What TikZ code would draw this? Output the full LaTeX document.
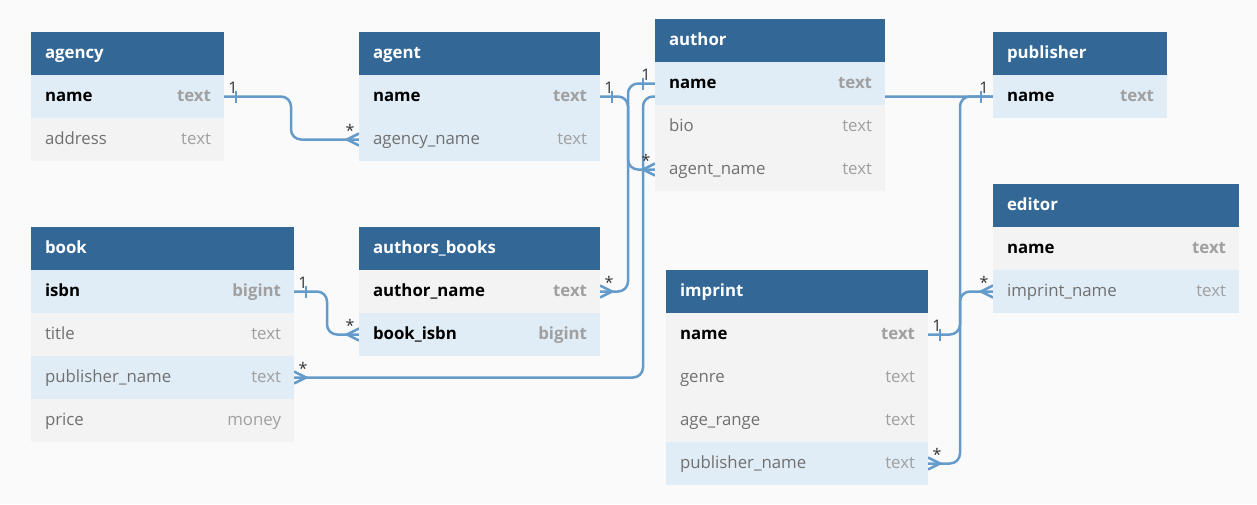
\documentclass[tikz,border=0pt]{standalone}
\usepackage{fontspec}
\setmainfont{Open Sans}
\usetikzlibrary{positioning}
\definecolor{hdrblue}{HTML}{326796}
\definecolor{keyblue}{HTML}{E0EDF6}
\definecolor{rowgrey}{HTML}{F3F3F3}
\definecolor{bgwhite}{HTML}{FAFAFB}
\definecolor{linkblue}{HTML}{659BCB}
\definecolor{fldgrey}{HTML}{707070}
\definecolor{typgrey}{HTML}{A0A0A0}
\definecolor{cardgrey}{HTML}{333333}
\pgfdeclarelayer{back}
\pgfdeclarelayer{links}
\pgfsetlayers{back,links,main}
\tikzset{
  cardone/.pic={
    \draw[link] (12,-6) -- (12,6);
    \node[card] at (9,-3) {1};
  },
  cardmany/.pic={
    \draw[link,sharp corners] (0,-6) -- (12,0) -- (0,6);
    \node[card] at (9,-3) {*};
  }
}
\begin{document}
\begin{tikzpicture}[x=1pt,y=-1pt,node distance=0pt,
    every node/.style={outer sep=0pt},
    hdr/.style={anchor=north west,fill=hdrblue,minimum height=43pt,inner sep=0pt,minimum width=#1},
    keyrow/.style={fill=keyblue,minimum height=43pt,inner sep=0pt,minimum width=#1},
    row/.style={fill=rowgrey,minimum height=43pt,inner sep=0pt,minimum width=#1},
    ttl/.style={right,inner xsep=14pt,yshift=-2pt,text=white,text height=1.5ex,text depth=.25ex,font=\bfseries\fontsize{16.8}{20}\selectfont},
    fld/.style={right,inner xsep=14pt,yshift=-2pt,text=fldgrey,text height=1.5ex,text depth=.25ex,font=\fontsize{16.8}{20}\selectfont},
    pk/.style={fld,text=black,font=\bfseries\fontsize{16.8}{20}\selectfont},
    typ/.style={left,inner xsep=13pt,yshift=-2pt,text=typgrey,text height=1.5ex,text depth=.25ex,font=\fontsize{16.8}{20}\selectfont},
    pktyp/.style={typ,font=\bfseries\fontsize{16.8}{20}\selectfont},
    link/.style={draw=linkblue,line width=2.5pt,rounded corners=10pt},
    card/.style={anchor=base,inner sep=0pt,text=cardgrey,font=\fontsize{16}{19}\selectfont}
  ]
  \begin{pgfonlayer}{back}
    \fill[bgwhite] (0,0) rectangle (1257,504);
  \end{pgfonlayer}

  % agency
  \node[hdr=193pt] (agency) at (31,32) {};
  \node[ttl] at (agency.west) {agency};
  \node[keyrow=193pt, below=of agency] (agency-name) {};
  \node[pk] at (agency-name.west) {name};
  \node[pktyp] at (agency-name.east) {text};
  \node[row=193pt, below=of agency-name] (agency-address) {};
  \node[fld] at (agency-address.west) {address};
  \node[typ] at (agency-address.east) {text};

  % agent
  \node[hdr=241pt] (agent) at (359,32) {};
  \node[ttl] at (agent.west) {agent};
  \node[keyrow=241pt, below=of agent] (agent-name) {};
  \node[pk] at (agent-name.west) {name};
  \node[pktyp] at (agent-name.east) {text};
  \node[keyrow=241pt, below=of agent-name] (agent-agencyname) {};
  \node[fld] at (agent-agencyname.west) {agency\_name};
  \node[typ] at (agent-agencyname.east) {text};

  % author
  \node[hdr=230pt] (author) at (655,19) {};
  \node[ttl] at (author.west) {author};
  \node[keyrow=230pt, below=of author] (author-name) {};
  \node[pk] at (author-name.west) {name};
  \node[pktyp] at (author-name.east) {text};
  \node[row=230pt, below=of author-name] (author-bio) {};
  \node[fld] at (author-bio.west) {bio};
  \node[typ] at (author-bio.east) {text};
  \node[row=230pt, below=of author-bio] (author-agentname) {};
  \node[fld] at (author-agentname.west) {agent\_name};
  \node[typ] at (author-agentname.east) {text};

  % publisher
  \node[hdr=174pt] (publisher) at (993,32) {};
  \node[ttl] at (publisher.west) {publisher};
  \node[keyrow=174pt, below=of publisher] (publisher-name) {};
  \node[pk] at (publisher-name.west) {name};
  \node[pktyp] at (publisher-name.east) {text};

  % editor
  \node[hdr=246pt] (editor) at (993,184) {};
  \node[ttl] at (editor.west) {editor};
  \node[row=246pt, below=of editor] (editor-name) {};
  \node[pk] at (editor-name.west) {name};
  \node[pktyp] at (editor-name.east) {text};
  \node[keyrow=246pt, below=of editor-name] (editor-imprintname) {};
  \node[fld] at (editor-imprintname.west) {imprint\_name};
  \node[typ] at (editor-imprintname.east) {text};

  % book
  \node[hdr=263pt] (book) at (31,227) {};
  \node[ttl] at (book.west) {book};
  \node[keyrow=263pt, below=of book] (book-isbn) {};
  \node[pk] at (book-isbn.west) {isbn};
  \node[pktyp] at (book-isbn.east) {bigint};
  \node[row=263pt, below=of book-isbn] (book-title) {};
  \node[fld] at (book-title.west) {title};
  \node[typ] at (book-title.east) {text};
  \node[keyrow=263pt, below=of book-title] (book-publishername) {};
  \node[fld] at (book-publishername.west) {publisher\_name};
  \node[typ] at (book-publishername.east) {text};
  \node[row=263pt, below=of book-publishername] (book-price) {};
  \node[fld] at (book-price.west) {price};
  \node[typ] at (book-price.east) {money};

  % authors_books
  \node[hdr=241pt] (authorsbooks) at (359,227) {};
  \node[ttl] at (authorsbooks.west) {authors\_books};
  \node[row=241pt, below=of authorsbooks] (authorsbooks-authorname) {};
  \node[pk] at (authorsbooks-authorname.west) {author\_name};
  \node[pktyp] at (authorsbooks-authorname.east) {text};
  \node[keyrow=241pt, below=of authorsbooks-authorname] (authorsbooks-bookisbn) {};
  \node[pk] at (authorsbooks-bookisbn.west) {book\_isbn};
  \node[pktyp] at (authorsbooks-bookisbn.east) {bigint};

  % imprint
  \node[hdr=262pt] (imprint) at (666,270) {};
  \node[ttl] at (imprint.west) {imprint};
  \node[row=262pt, below=of imprint] (imprint-name) {};
  \node[pk] at (imprint-name.west) {name};
  \node[pktyp] at (imprint-name.east) {text};
  \node[row=262pt, below=of imprint-name] (imprint-genre) {};
  \node[fld] at (imprint-genre.west) {genre};
  \node[typ] at (imprint-genre.east) {text};
  \node[row=262pt, below=of imprint-genre] (imprint-agerange) {};
  \node[fld] at (imprint-agerange.west) {age\_range};
  \node[typ] at (imprint-agerange.east) {text};
  \node[keyrow=262pt, below=of imprint-agerange] (imprint-publishername) {};
  \node[fld] at (imprint-publishername.west) {publisher\_name};
  \node[typ] at (imprint-publishername.east) {text};

  % relations
  \begin{pgfonlayer}{links}
    \draw[link] (agency-name.east) -- ++(67,0) |- (agent-agencyname.west);
    \draw[link] (agent-name.east) -- ++(28,0) |- (author-agentname.west);
    \draw[link] (author-name.west) -- ++(-27,0) |- (authorsbooks-authorname.east);
    \draw[link] (book-isbn.east) -- ++(33,0) |- (authorsbooks-bookisbn.west);
    \draw[link] (book-publishername.east) -- ++(349,0) |- (publisher-name.west);
    \draw[link] (imprint-publishername.east) -- ++(32,0) |- (publisher-name.west);
    \draw[link] (imprint-name.east) -- ++(32,0) |- (editor-imprintname.west);

    \pic at (agency-name.east) {cardone};
    \pic[xscale=-1] at (agent-agencyname.west) {cardmany};
    \pic at (agent-name.east) {cardone};
    \pic[xscale=-1] at (author-agentname.west) {cardmany};
    \pic[xscale=-1] at (author-name.west) {cardone};
    \pic at (authorsbooks-authorname.east) {cardmany};
    \pic at (book-isbn.east) {cardone};
    \pic[xscale=-1] at (authorsbooks-bookisbn.west) {cardmany};
    \pic at (book-publishername.east) {cardmany};
    \pic[xscale=-1] at (publisher-name.west) {cardone};
    \pic at (imprint-name.east) {cardone};
    \pic[xscale=-1] at (editor-imprintname.west) {cardmany};
    \pic at (imprint-publishername.east) {cardmany};
  \end{pgfonlayer}
\end{tikzpicture}
\end{document}
